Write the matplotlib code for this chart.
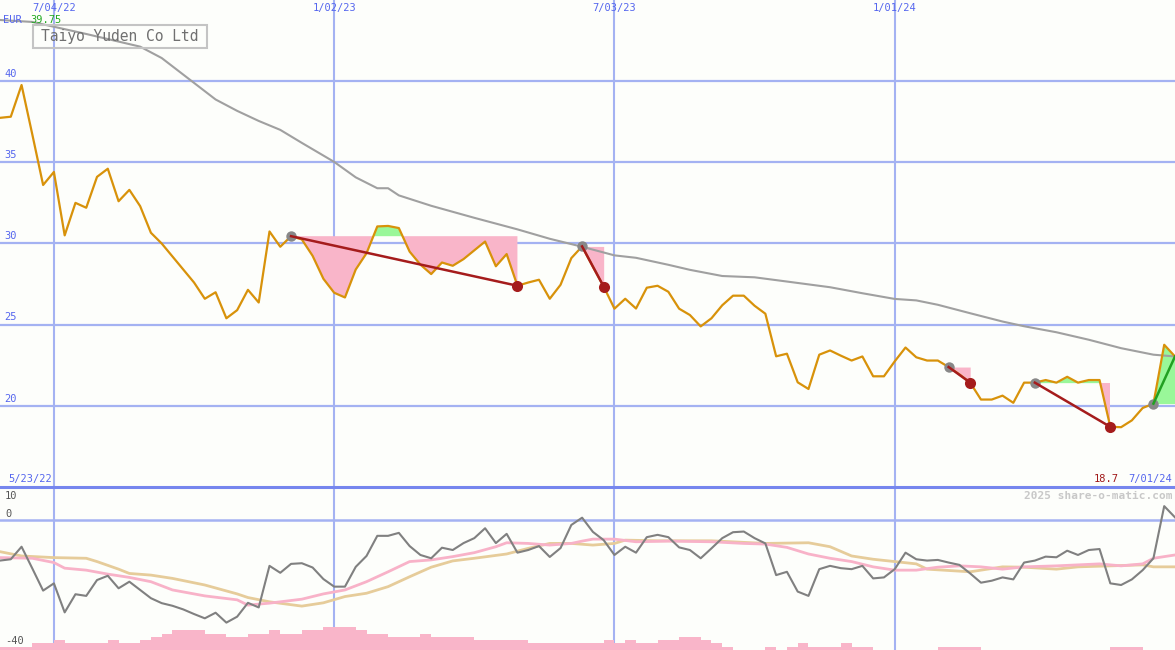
import matplotlib
matplotlib.use("Agg")
import matplotlib.pyplot as plt
import matplotlib.dates as mdates
from matplotlib.patches import Rectangle
import numpy as np
import pandas as pd

# weekly closes, first week 2022-05-30
start_date = "2022-05-30"
price = [37.73, 37.8, 39.75, 36.7, 33.6, 34.4, 30.5, 32.5, 32.2, 34.1,
         34.6, 32.6, 33.3, 32.3, 30.66, 30.0, 29.2, 28.4, 27.6, 26.6,
         27.0, 25.4, 25.9, 27.15, 26.37, 30.74, 29.8, 30.45, 30.25, 29.24,
         27.83, 26.97, 26.68, 28.4, 29.4, 31.05, 31.08, 30.95, 29.5, 28.7,
         28.12, 28.83, 28.63, 29.04, 29.58, 30.12, 28.6, 29.35, 27.4, 27.6,
         27.77, 26.6, 27.46, 29.1, 29.82, 28.57, 27.35, 25.99, 26.6, 26.0,
         27.28, 27.4, 27.03, 25.99, 25.6, 24.9, 25.4, 26.2, 26.79, 26.79,
         26.17, 25.68, 23.06, 23.22, 21.46, 21.05, 23.16, 23.42, 23.1, 22.8,
         23.05, 21.83, 21.83, 22.75, 23.6, 23.0, 22.8, 22.8, 22.4, 21.95,
         21.44, 20.4, 20.4, 20.64, 20.2, 21.44, 21.44, 21.6, 21.44, 21.8,
         21.44, 21.6, 21.6, 18.72, 18.7, 19.12, 19.88, 20.15, 23.77, 23.05]
high_label = 39.75
low_label = 18.7

# long moving average (week index, value)
ma_idx = [0, 3, 8, 13, 15, 18, 20, 22, 24, 26, 28, 31, 33, 35, 36, 37, 40, 44, 48, 51,
          54, 57, 59, 62, 64, 67, 70, 73, 77, 80, 83, 85, 87, 90, 93, 95, 98, 101, 104, 107, 109]
ma_val = [43.75, 43.63, 42.89, 42.11, 41.41, 39.88, 38.86, 38.16, 37.54, 36.99, 36.19, 35.02,
          34.07, 33.4, 33.4, 32.96, 32.32, 31.58, 30.87, 30.29, 29.8, 29.27, 29.12, 28.69,
          28.38, 28.0, 27.92, 27.66, 27.31, 26.94, 26.59, 26.5, 26.23, 25.71, 25.2, 24.91,
          24.54, 24.08, 23.56, 23.16, 23.05]

# signals: start week (grey dot) / end week (red dot), last one still open
sig_start = [27, 54, 88, 96, 107]
sig_end = [48, 56, 90, 103, 109]
sig_open = [False, False, False, False, True]

# lower panel
osc = [-12.3, -11.9, -8.1, -14.7, -21.4, -19.2, -28.0, -22.5, -23.0, -18.2,
       -16.9, -20.7, -18.7, -21.2, -23.7, -25.2, -26.0, -27.1, -28.5, -29.8,
       -28.1, -31.1, -29.3, -25.1, -26.5, -13.9, -16.0, -13.3, -13.1, -14.4,
       -17.9, -20.2, -20.2, -14.2, -10.9, -4.8, -4.8, -3.9, -7.9, -10.6,
       -11.6, -8.4, -9.1, -7.0, -5.5, -2.5, -7.0, -4.2, -9.9, -9.1,
       -7.9, -11.2, -8.5, -1.5, 0.7, -3.6, -6.1, -10.6, -8.1, -9.9,
       -5.2, -4.5, -5.2, -8.3, -9.1, -11.6, -8.6, -5.5, -3.7, -3.5,
       -5.5, -7.1, -16.7, -15.7, -21.7, -23.0, -14.9, -13.9, -14.6, -14.9,
       -13.9, -17.7, -17.4, -14.9, -9.9, -11.9, -12.3, -12.1, -12.9, -13.6,
       -16.2, -19.0, -18.4, -17.4, -18.0, -12.9, -12.3, -11.1, -11.3, -9.3,
       -10.6, -9.1, -8.8, -19.2, -19.7, -18.0, -15.2, -11.6, 4.2, 0.8]

pink_idx = [0, 3, 5, 6, 8, 10, 12, 14, 16, 19, 22, 23, 25, 28, 30, 32, 34, 36, 38, 40,
            42, 44, 46, 47, 49, 51, 53, 54, 55, 57, 59, 62, 66, 69, 71, 73, 75, 77, 79, 81,
            83, 85, 87, 89, 91, 93, 95, 98, 100, 102, 104, 106, 107, 109]
pink_val = [-11.4, -11.6, -12.9, -14.6, -15.2, -16.4, -17.4, -18.7, -21.2, -23.0,
            -24.2, -25.8, -25.2, -24.0, -22.4, -21.2, -18.7, -15.7, -12.6, -12.1,
            -11.1, -9.9, -8.1, -6.9, -7.1, -7.6, -7.1, -6.4, -5.8, -5.8,
            -6.6, -6.4, -6.6, -7.1, -7.3, -8.3, -10.3, -11.6, -12.6, -14.2,
            -15.2, -15.2, -14.3, -13.9, -14.2, -14.9, -14.2, -13.9, -13.6, -13.3,
            -13.9, -13.3, -11.6, -10.6]

tan_idx = [0, 2, 5, 8, 9, 11, 12, 14, 16, 19, 22, 23, 25, 28, 30, 32, 34, 36, 38, 40,
           42, 44, 47, 49, 51, 53, 55, 57, 58, 61, 66, 71, 75, 77, 79, 81, 83, 85, 86, 90,
           93, 95, 98, 100, 103, 106, 107, 109]
tan_val = [-9.6, -10.9, -11.4, -11.6, -12.6, -14.9, -16.2, -16.7, -17.7, -19.7,
           -22.4, -23.5, -24.8, -26.1, -25.1, -23.2, -22.2, -20.2, -17.2, -14.3,
           -12.4, -11.6, -10.3, -8.6, -7.1, -7.1, -7.6, -7.1, -6.1, -6.3,
           -6.3, -7.1, -6.9, -8.1, -10.9, -11.9, -12.6, -13.3, -14.9, -15.7,
           -14.2, -14.3, -14.9, -14.2, -13.9, -13.6, -14.2, -14.2]

bars = [1, 1, 1, 2, 2, 3, 2, 2, 2, 2,
        3, 2, 2, 3, 4, 5, 6, 6, 6, 5,
        5, 4, 4, 5, 5, 6, 5, 5, 6, 6,
        7, 7, 7, 6, 5, 5, 4, 4, 4, 5,
        4, 4, 4, 4, 3, 3, 3, 3, 3, 2,
        2, 2, 2, 2, 2, 2, 3, 2, 3, 2,
        2, 3, 3, 4, 4, 3, 2, 1, 0, 0,
        0, 1, 0, 1, 2, 1, 1, 1, 2, 1,
        1, 0, 0, 0, 0, 0, 0, 1, 1, 1,
        1, 0, 0, 0, 0, 0, 0, 0, 0, 0,
        0, 0, 0, 1, 1, 1, 0, 0, 0]

grid_dates = ["2022-07-04", "2023-01-02", "2023-07-03", "2024-01-01"]
grid_labels = ["7/04/22", "1/02/23", "7/03/23", "1/01/24"]
price_levels = [20, 25, 30, 35, 40]

# colours
bg = "#fdfefb"
grid_c = "#a4b2f2"
sep_c = "#7686ee"
lab_c = "#5566ee"
orange = "#d8920a"
pink = "#f9b5c9"
green = "#99f799"
dred = "#a51c1c"
mono = "DejaVu Sans Mono"

W, H = 1175, 650
fig = plt.figure(figsize=(W / 100, H / 100), dpi=100)
fig.patch.set_facecolor(bg)


def px(x, y):
    return x / W, 1 - y / H


x = mdates.date2num(pd.date_range(start_date, periods=len(price), freq="7D"))
p = np.array(price)

# ---- main panel
ax = fig.add_axes([0, 163 / H, 1, 487 / H])
ax.axis("off")
ax.set_xlim(x[0], x[-1])
ax.set_ylim(15.02, 44.98)

for v in price_levels:
    ax.axhline(v, color=grid_c, lw=1.6, zorder=1)
    ax.text(0.004, v + 0.15, str(v), transform=ax.get_yaxis_transform(),
            ha="left", va="bottom", color=lab_c, fontsize=7.5, family=mono)
for d, lab in zip(grid_dates, grid_labels):
    xd = mdates.datestr2num(d)
    ax.axvline(xd, color=grid_c, lw=1.5, zorder=1)
    ax.text(xd, 1 - 8 / 487, lab, transform=ax.get_xaxis_transform(),
            ha="center", va="center", color=lab_c, fontsize=7.5, family=mono)

for s, e in zip(sig_start, sig_end):
    lvl = p[s]
    xs, ps = x[s:e + 1], p[s:e + 1]
    ax.fill_between(xs, lvl, ps, where=ps <= lvl, interpolate=True,
                    color=pink, lw=0, zorder=2)
    ax.fill_between(xs, lvl, ps, where=ps >= lvl, interpolate=True,
                    color=green, lw=0, zorder=2)

ax.plot(x[ma_idx], ma_val, color="#a0a0a0", lw=1.5, zorder=3)
ax.plot(x, p, color=orange, lw=1.6, zorder=4)

for s, e, op in zip(sig_start, sig_end, sig_open):
    ax.plot(x[s], p[s], "o", color="#888888", ms=7.5, mec="none", zorder=5)
    ax.plot([x[s], x[e]], [p[s], p[e]], color="#22a022" if op else dred,
            lw=1.8, zorder=6)
    if not op:
        ax.plot(x[e], p[e], "o", color=dred, ms=8, mec="none", zorder=7)

# ---- lower panel
ax2 = fig.add_axes([0, 0, 1, 163 / H])
ax2.axis("off")
ax2.set_xlim(x[0], x[-1])
ax2.set_ylim(-39.4, 10)
ax2.axhline(0, color=grid_c, lw=1.8, zorder=1)
for d in grid_dates:
    ax2.axvline(mdates.datestr2num(d), color=grid_c, lw=1.5, zorder=1)
ax2.bar(x[:-1], bars, width=7, align="edge", bottom=-39.4, color=pink,
        lw=0, zorder=2)
ax2.plot(x[tan_idx], tan_val, color="#e6cc9a", lw=2.0, zorder=3)
ax2.plot(x[pink_idx], pink_val, color="#f8b2c8", lw=2.0, zorder=3)
ax2.plot(x, osc, color="#808080", lw=1.5, zorder=4)
ax2.axhline(10, color=sep_c, lw=2.2, zorder=5, clip_on=False)

# ---- texts
fig.text(*px(3, 20), "EUR", color=lab_c, fontsize=7.5, family=mono, va="center")
fig.text(*px(30, 20), f"{high_label:.2f}", color="#22aa22", fontsize=7.5,
         family=mono, va="center")
fig.patches.append(Rectangle(px(33, 48), 174 / W, 23 / H, transform=fig.transFigure,
                             fill=False, ec="#c4c4c4", lw=1.5))
fig.text(*px(120, 37), "Taiyo Yuden Co Ltd", color="#707070", fontsize=10.5,
         family=mono, ha="center", va="center")
fig.text(*px(8, 479), "5/23/22", color=lab_c, fontsize=7.5, family=mono, va="center")
fig.text(*px(1172, 479), "7/01/24", color=lab_c, fontsize=7.5, family=mono,
         ha="right", va="center")
fig.text(*px(1119, 479), f"{low_label:.1f}", color="#a01818", fontsize=7.5,
         family=mono, ha="right", va="center")
fig.text(*px(1172, 496), "2025 share-o-matic.com", color="#c8c8c8", fontsize=8,
         family=mono, fontweight="bold", ha="right", va="center")
for lab, yy in [("10", 496), ("0", 514), ("-40", 641)]:
    fig.text(*px(5, yy), lab, color="#555555", fontsize=7.5, family=mono, va="center")

fig.savefig("out.png", dpi=100, facecolor=bg)
